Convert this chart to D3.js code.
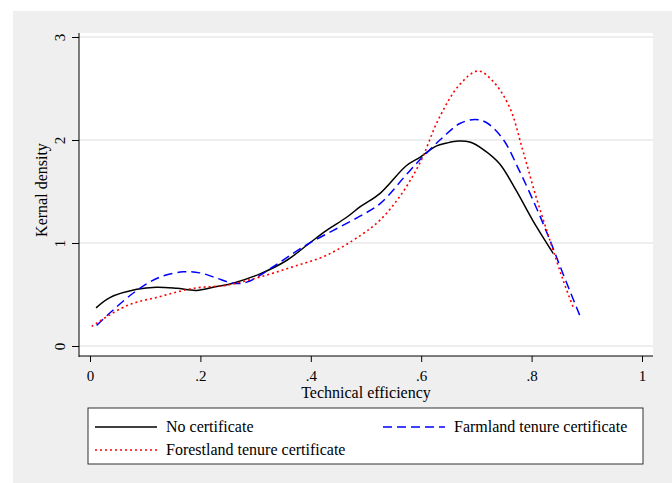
<!DOCTYPE html>
<html>
<head>
<meta charset="utf-8">
<script src="https://cdn.jsdelivr.net/npm/d3@7"></script>
<style>
  body { margin: 0; background: #fff; }
  text { font-family: "Liberation Serif", "Times New Roman", serif; }
</style>
</head>
<body>
<div id="chart"></div>
<script>
// kernel density estimates
var noCertX = [0.011, 0.036, 0.085, 0.12, 0.157, 0.193, 0.223, 0.259, 0.308, 0.356, 0.398, 0.428, 0.465, 0.489, 0.525, 0.573, 0.597, 0.627, 0.646, 0.667, 0.688, 0.712, 0.742, 0.772, 0.802, 0.839];
var noCertY = [0.37, 0.47, 0.55, 0.57, 0.56, 0.54, 0.57, 0.61, 0.70, 0.83, 1.00, 1.12, 1.25, 1.35, 1.48, 1.75, 1.83, 1.94, 1.97, 1.99, 1.98, 1.91, 1.77, 1.51, 1.22, 0.90];

var farmX = [0.012, 0.042, 0.085, 0.127, 0.169, 0.199, 0.229, 0.259, 0.284, 0.332, 0.368, 0.398, 0.44, 0.489, 0.525, 0.579, 0.609, 0.64, 0.67, 0.697, 0.718, 0.748, 0.778, 0.808, 0.833, 0.857, 0.887];
var farmY = [0.20, 0.35, 0.54, 0.67, 0.72, 0.71, 0.66, 0.61, 0.62, 0.77, 0.90, 1.00, 1.12, 1.26, 1.38, 1.70, 1.87, 2.03, 2.16, 2.20, 2.17, 2.01, 1.70, 1.35, 1.03, 0.70, 0.30];

var forestX = [0.003, 0.066, 0.127, 0.187, 0.247, 0.308, 0.368, 0.428, 0.489, 0.525, 0.561, 0.597, 0.633, 0.670, 0.703, 0.730, 0.760, 0.784, 0.808, 0.833, 0.857, 0.875];
var forestY = [0.19, 0.39, 0.48, 0.56, 0.59, 0.67, 0.77, 0.88, 1.07, 1.22, 1.45, 1.77, 2.22, 2.54, 2.67, 2.57, 2.32, 1.90, 1.45, 1.03, 0.64, 0.38];

var xTicks = [0, 0.2, 0.4, 0.6, 0.8, 1];
var xTickLabels = ["0", ".2", ".4", ".6", ".8", "1"];
var yTicks = [0, 1, 2, 3];

var W = 672, H = 483;
var svg = d3.select("#chart").append("svg")
    .attr("width", W)
    .attr("height", H);

// outer gray panel
svg.append("rect")
    .attr("x", 13).attr("y", 11)
    .attr("width", W - 13).attr("height", H - 11)
    .attr("fill", "#efefef");

// plot region
svg.append("rect")
    .attr("x", 79).attr("y", 33)
    .attr("width", 653 - 79).attr("height", 356 - 33)
    .attr("fill", "#fff");

var x = d3.scaleLinear().domain([0, 1]).range([90, 642]);
var y = d3.scaleLinear().domain([0, 3]).range([346, 37]);

// gridlines
svg.append("g")
    .selectAll("line")
    .data(yTicks)
    .join("line")
    .attr("x1", 79).attr("x2", 653)
    .attr("y1", d => y(d)).attr("y2", d => y(d))
    .attr("stroke", "#e8e8e8")
    .attr("stroke-width", 1.5);

// axes
var yAxis = svg.append("g")
    .attr("transform", "translate(79,0)")
    .call(d3.axisLeft(y).tickValues(yTicks).tickSize(7).tickFormat(d3.format("d")));
yAxis.select(".domain").attr("d", "M0,33V357").attr("stroke", "#000");
yAxis.selectAll(".tick line").attr("stroke", "#000");
yAxis.selectAll(".tick text")
    .attr("font-size", 15)
    .attr("fill", "#000")
    .attr("x", null).attr("dy", null)
    .attr("text-anchor", "middle")
    .attr("transform", "translate(-14,0) rotate(-90)");

var xAxis = svg.append("g")
    .attr("transform", "translate(0,356)")
    .call(d3.axisBottom(x).tickValues(xTicks).tickSize(6).tickFormat((d, i) => xTickLabels[i]));
xAxis.select(".domain").attr("d", "M79,0H653").attr("stroke", "#000");
xAxis.selectAll(".tick line").attr("stroke", "#000");
xAxis.selectAll(".tick text")
    .attr("font-size", 15)
    .attr("fill", "#000")
    .attr("y", 14);

svg.append("text")
    .attr("x", 366).attr("y", 398)
    .attr("text-anchor", "middle")
    .attr("font-size", 16)
    .text("Technical efficiency");

svg.append("text")
    .attr("transform", "translate(47,190) rotate(-90)")
    .attr("text-anchor", "middle")
    .attr("font-size", 16)
    .text("Kernal density");

// density curves
var line = d3.line()
    .x(d => x(d[0]))
    .y(d => y(d[1]))
    .curve(d3.curveCatmullRom.alpha(0.5));

var series = [
    {name: "No certificate", xs: noCertX, ys: noCertY, color: "#000", dash: null, width: 1.5},
    {name: "Farmland tenure certificate", xs: farmX, ys: farmY, color: "#0000ff", dash: "9,5", width: 1.5},
    {name: "Forestland tenure certificate", xs: forestX, ys: forestY, color: "#ff0000", dash: "2,3", width: 1.6}
];

series.forEach(function(s) {
    svg.append("path")
        .datum(d3.zip(s.xs, s.ys))
        .attr("fill", "none")
        .attr("stroke", s.color)
        .attr("stroke-width", s.width)
        .attr("stroke-dasharray", s.dash)
        .attr("d", line);
});

// legend
svg.append("rect")
    .attr("x", 88).attr("y", 408)
    .attr("width", 555).attr("height", 56)
    .attr("fill", "#fff")
    .attr("stroke", "#333")
    .attr("stroke-width", 1);

var legendPos = [[95, 427], [383, 427], [95, 450]];
legendPos.forEach(function(p, i) {
    var s = series[i];
    svg.append("line")
        .attr("x1", p[0]).attr("x2", p[0] + 62)
        .attr("y1", p[1]).attr("y2", p[1])
        .attr("stroke", s.color)
        .attr("stroke-width", s.width)
        .attr("stroke-dasharray", s.dash);
    svg.append("text")
        .attr("x", p[0] + 71).attr("y", p[1] + 5)
        .attr("font-size", 16)
        .text(s.name);
});
</script>
</body>
</html>
